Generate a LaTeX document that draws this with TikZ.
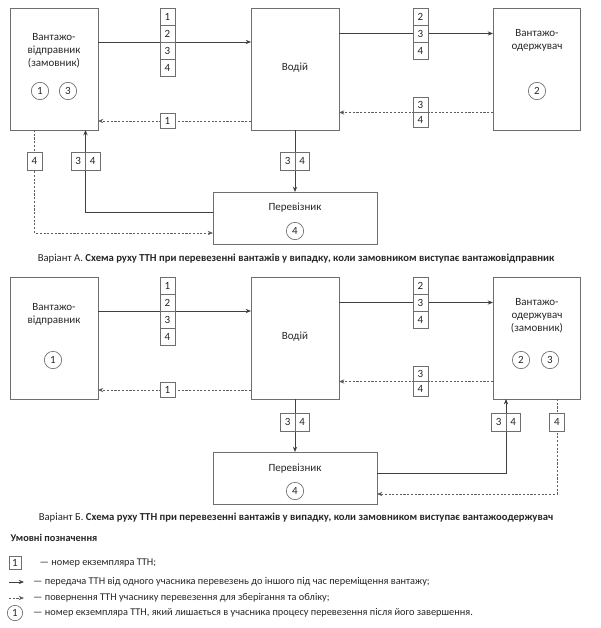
\documentclass[tikz,border=0pt]{standalone}
\usepackage{fontspec}
\setmainfont{Carlito}
\usetikzlibrary{arrows.meta,calc}
\definecolor{ln}{HTML}{404040}
\definecolor{bd}{HTML}{6E6E6E}
\definecolor{tx}{HTML}{262626}
\begin{document}
\begin{tikzpicture}[x=0.75pt,y=-0.75pt,
  every node/.style={font=\fontsize{8.25pt}{9.75pt}\selectfont, text=tx},
  capt/.style={font=\fontsize{8pt}{9.75pt}\selectfont},
  legtext/.style={anchor=west, font=\fontsize{7.75pt}{9.5pt}\selectfont},
  party/.style={draw=bd, line width=0.6pt, minimum width=66pt, minimum height=91.5pt, inner sep=0pt, outer sep=0pt},
  carrier/.style={party, minimum width=123pt, minimum height=39pt},
  cell/.style={draw=bd, line width=0.5pt, fill=white, inner sep=0pt, outer sep=0pt, minimum width=11.25pt, minimum height=12.75pt},
  rcell/.style={cell, minimum height=11.25pt},
  vcell/.style={cell, minimum width=10.875pt, minimum height=13.5pt},
  scell/.style={cell, minimum height=13.5pt},
  copy/.style={circle, draw=bd, line width=0.5pt, minimum size=13pt, inner sep=0pt},
  flow/.style={draw=ln, line width=0.6pt, -{Stealth[length=4pt,width=3.2pt]}},
  ret/.style={flow, draw=ln!85, dash pattern=on 1.6pt off 1.2pt}]
\useasboundingbox (0,0) rectangle (600,628);

% ---------- Variant A ----------
\node[party] (shA) at (54,69) {};
\node[party] (drA) at (295,69) {};
\node[party, minimum width=65.25pt] (rcA) at (536.5,69) {};
\node[carrier] (caA) at (295,218) {};
\node[align=center] (shAt) at (54,51) {Вантажо-\\відправник\\(замовник)};
\node (drAt) at (295,68) {Водій};
\node[align=center] (rcAt) at (537,40) {Вантажо-\\одержувач};
\node (caAt) at (295,208) {Перевізник};
\node[copy] (cA1) at (40,91) {1};
\node[copy] (cA3) at (68,91) {3};
\node[copy] (cA2) at (537,91) {2};
\node[copy] (cA4) at (295,231) {4};

\draw[flow] (shA.east |- 0,42) -- (drA.west |- 0,42);
\draw[flow] (drA.east |- 0,33.5) -- (rcA.west |- 0,33.5);
\draw[ret] (drA.west |- 0,121) -- (shA.east |- 0,121);
\draw[ret] (rcA.west |- 0,112.5) -- (drA.east |- 0,112.5);
\draw[flow] (drA.south) -- (caA.north);
\draw[flow] ([yshift=-15pt]caA.north west) -| (85.5,0 |- shA.south);
\draw[ret] (34.5,0 |- shA.south) |- ([yshift=-30.75pt]caA.north west);

\node[cell] (tA1) at (167.5,16.5) {1};
\node[cell] (tA2) at (167.5,33.5) {2};
\node[cell] (tA3) at (167.5,50.5) {3};
\node[cell] (tA4) at (167.5,67.5) {4};
\node[cell] (uA2) at (420.5,16.5) {2};
\node[cell] (uA3) at (420.5,33.5) {3};
\node[cell] (uA4) at (420.5,50.5) {4};
\node[rcell] (bA1) at (167.5,121) {1};
\node[rcell] (vA3) at (420.5,105) {3};
\node[rcell] (vA4) at (420.5,120) {4};
\node[vcell] (mA3) at (287.75,161) {3};
\node[vcell] (mA4) at (302.25,161) {4};
\node[vcell] (pA3) at (78.25,161) {3};
\node[vcell] (pA4) at (92.75,161) {4};
\node[scell] (lA4) at (34.5,161) {4};

\node[capt] (capA) at (296,259) {Варіант А. \textbf{Схема руху ТТН при перевезенні вантажів у випадку, коли замовником виступає вантажовідправник}};

% ---------- Variant B ----------
\node[party] (shB) at (54,338) {};
\node[party] (drB) at (295,338) {};
\node[party, minimum width=65.25pt] (rcB) at (536.5,338) {};
\node[carrier] (caB) at (295,478) {};
\node[align=center] (shBt) at (54,314) {Вантажо-\\відправник};
\node (drBt) at (295,337) {Водій};
\node[align=center] (rcBt) at (537,316) {Вантажо-\\одержувач\\(замовник)};
\node (caBt) at (295,469) {Перевізник};
\node[copy] (cB1) at (53,360) {1};
\node[copy] (cB2) at (521,360) {2};
\node[copy] (cB3) at (550,360) {3};
\node[copy] (cB4) at (295,491) {4};

\draw[flow] (shB.east |- 0,311) -- (drB.west |- 0,311);
\draw[flow] (drB.east |- 0,302.5) -- (rcB.west |- 0,302.5);
\draw[ret] (drB.west |- 0,390) -- (shB.east |- 0,390);
\draw[ret] (rcB.west |- 0,381.5) -- (drB.east |- 0,381.5);
\draw[flow] (drB.south) -- (caB.north);
\draw[flow] ([yshift=-15.75pt]caB.north east) -| (506,0 |- rcB.south);
\draw[ret] (557,0 |- rcB.south) |- ([yshift=-31.5pt]caB.north east);

\node[cell] (tB1) at (167.5,285.5) {1};
\node[cell] (tB2) at (167.5,302.5) {2};
\node[cell] (tB3) at (167.5,319.5) {3};
\node[cell] (tB4) at (167.5,336.5) {4};
\node[cell] (uB2) at (420.5,285.5) {2};
\node[cell] (uB3) at (420.5,302.5) {3};
\node[cell] (uB4) at (420.5,319.5) {4};
\node[rcell] (bB1) at (167.5,390) {1};
\node[rcell] (vB3) at (420.5,374) {3};
\node[rcell] (vB4) at (420.5,389) {4};
\node[vcell] (mB3) at (287.75,422) {3};
\node[vcell] (mB4) at (302.25,422) {4};
\node[vcell] (pB3) at (498.75,422) {3};
\node[vcell] (pB4) at (513.25,422) {4};
\node[scell] (sB4) at (557,422) {4};

\node[capt] (capB) at (296,518) {Варіант Б. \textbf{Схема руху ТТН при перевезенні вантажів у випадку, коли замовником виступає вантажоодержувач}};

% ---------- Legend ----------
\node[legtext] (legT) at (6,538) {\textbf{Умовні позначення}};
\node[cell, minimum width=9pt, minimum height=9.75pt] (legBox) at (15,562.5) {1};
\node[legtext] (legT1) at (35,563) {— номер екземпляра ТТН;};
\coordinate (legF1) at (9,582);
\coordinate (legF2) at (24,582);
\draw[flow] (legF1) -- (legF2);
\node[legtext] (legT2) at (28.5,582) {— передача ТТН від одного учасника перевезень до іншого під час переміщення вантажу;};
\coordinate (legR1) at (9,598);
\coordinate (legR2) at (24,598);
\draw[ret] (legR1) -- (legR2);
\node[legtext] (legT3) at (28.5,598) {— повернення ТТН учаснику перевезення для зберігання та обліку;};
\node[copy, minimum size=11.5pt] (legC) at (15,613) {1};
\node[legtext] (legT4) at (28.5,613) {— номер екземпляра ТТН, який лишається в учасника процесу перевезення після його завершення.};
\end{tikzpicture}
\end{document}
